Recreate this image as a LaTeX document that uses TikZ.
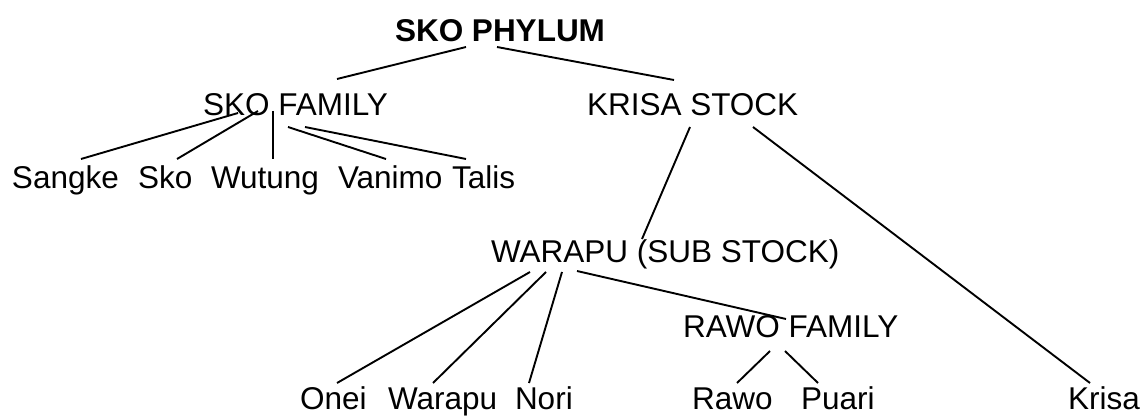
\documentclass[tikz,border=0pt]{standalone}
\usepackage{fontspec}
\setmainfont{Liberation Sans}
\begin{document}
\begin{tikzpicture}[x=1pt,y=-1pt,
  lbl/.style={anchor=base west,inner sep=0pt,outer sep=0pt,
    font=\fontsize{31.5}{36}\selectfont},
  branch/.style={draw=black,line width=1.9pt}]
\useasboundingbox[fill=white] (0,0) rectangle (1143,417);

% tree labels
\node[lbl,font=\fontsize{31.5}{36}\selectfont\bfseries] (phylum) at (395,42) {SKO PHYLUM};
\node[lbl] (skofam) at (203,116) {SKO FAMILY};
\node[lbl] (krisastock) at (587,116) {KRISA STOCK};
\node[lbl] (sangke) at (12,188) {Sangke};
\node[lbl] (sko) at (138,188) {Sko};
\node[lbl] (wutung) at (211,188) {Wutung};
\node[lbl] (vanimo) at (338,188) {Vanimo};
\node[lbl] (talis) at (452,188) {Talis};
\node[lbl] (warapu) at (491,262) {WARAPU (SUB STOCK)};
\node[lbl] (rawofam) at (683,337) {RAWO FAMILY};
\node[lbl] (onei) at (300,409) {Onei};
\node[lbl] (warapulang) at (388,409) {Warapu};
\node[lbl] (nori) at (515,409) {Nori};
\node[lbl] (rawo) at (692,409) {Rawo};
\node[lbl] (puari) at (801,409) {Puari};
\node[lbl] (krisa) at (1068,409) {Krisa};

% branches
\draw[branch] ([shift={(71,5)}]phylum.base west) -- ([shift={(134,-37)}]skofam.base west);
\draw[branch] ([shift={(102,5)}]phylum.base west) -- ([shift={(87,-36)}]krisastock.base west);

\draw[branch] ([shift={(35,-3)}]skofam.base west) -- ([shift={(69,-29)}]sangke.base west);
\draw[branch] ([shift={(55,-5)}]skofam.base west) -- ([shift={(39,-29)}]sko.base west);
\draw[branch] ([shift={(70,-5)}]skofam.base west) -- ([shift={(62,-29)}]wutung.base west);
\draw[branch] ([shift={(85,11)}]skofam.base west) -- ([shift={(48,-29)}]vanimo.base west);
\draw[branch] ([shift={(102,11)}]skofam.base west) -- ([shift={(14,-29)}]talis.base west);

\draw[branch] ([shift={(103,11)}]krisastock.base west) -- ([shift={(151,-23)}]warapu.base west);
\draw[branch] ([shift={(166,11)}]krisastock.base west) -- ([shift={(22,-26)}]krisa.base west);

\draw[branch] ([shift={(39,10)}]warapu.base west) -- ([shift={(37,-26)}]onei.base west);
\draw[branch] ([shift={(55,10)}]warapu.base west) -- ([shift={(45,-26)}]warapulang.base west);
\draw[branch] ([shift={(71,10)}]warapu.base west) -- ([shift={(14,-26)}]nori.base west);
\draw[branch] ([shift={(86,9)}]warapu.base west) -- ([shift={(103,-18)}]rawofam.base west);

\draw[branch] ([shift={(87,14)}]rawofam.base west) -- ([shift={(45,-26)}]rawo.base west);
\draw[branch] ([shift={(102,14)}]rawofam.base west) -- ([shift={(17,-26)}]puari.base west);
\end{tikzpicture}
\end{document}
